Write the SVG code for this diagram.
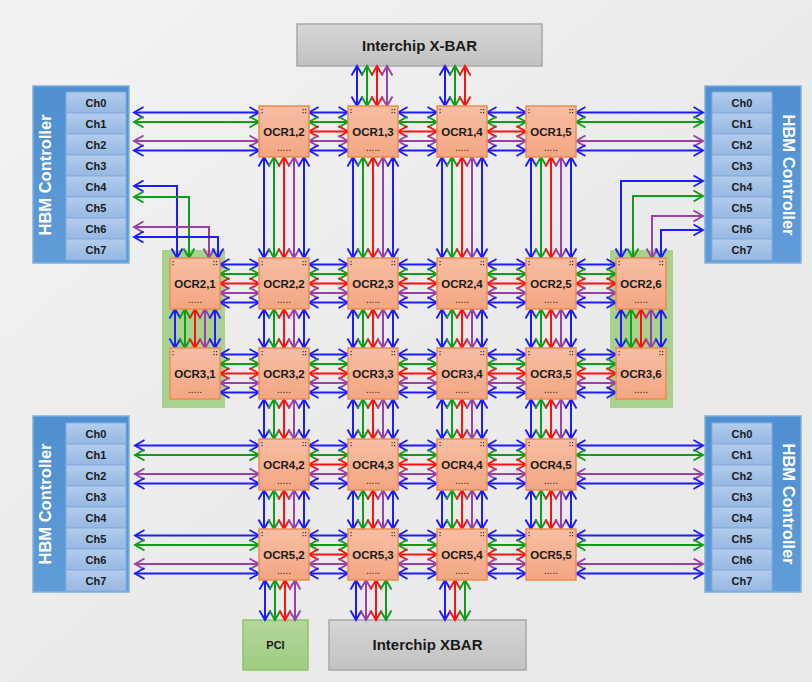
<svg xmlns="http://www.w3.org/2000/svg" xmlns:xlink="http://www.w3.org/1999/xlink" width="812" height="682" viewBox="0 0 812 682">
<defs>
<linearGradient id="gBg" x1="0" y1="0" x2="1" y2="1"><stop offset="0" stop-color="#f3f3f3"/><stop offset="0.5" stop-color="#ebebeb"/><stop offset="1" stop-color="#e9e9e9"/></linearGradient>
<linearGradient id="gN" x1="0" y1="0" x2="0" y2="1"><stop offset="0" stop-color="#f7bea3"/><stop offset="1" stop-color="#f3a682"/></linearGradient>
<linearGradient id="gH" x1="0" y1="0" x2="0" y2="1"><stop offset="0" stop-color="#4f8fd0"/><stop offset="1" stop-color="#5f9cd8"/></linearGradient>
<linearGradient id="gC" x1="0" y1="0" x2="0" y2="1"><stop offset="0" stop-color="#b2ccec"/><stop offset="1" stop-color="#96b8e2"/></linearGradient>
<linearGradient id="gX" x1="0" y1="0" x2="0" y2="1"><stop offset="0" stop-color="#d6d6d6"/><stop offset="1" stop-color="#c2c2c2"/></linearGradient>
<linearGradient id="gP" x1="0" y1="0" x2="0" y2="1"><stop offset="0" stop-color="#b4d89c"/><stop offset="1" stop-color="#9fcb82"/></linearGradient>
<marker id="mb" markerUnits="userSpaceOnUse" markerWidth="14" markerHeight="14" refX="10" refY="5.5" orient="auto-start-reverse" overflow="visible"><path d="M0.5,0 L10,5.5 L0.5,11" fill="none" stroke="#1c1cff" stroke-width="1.9"/></marker>
<marker id="mg" markerUnits="userSpaceOnUse" markerWidth="14" markerHeight="14" refX="10" refY="5.5" orient="auto-start-reverse" overflow="visible"><path d="M0.5,0 L10,5.5 L0.5,11" fill="none" stroke="#0f9e1a" stroke-width="1.9"/></marker>
<marker id="mr" markerUnits="userSpaceOnUse" markerWidth="14" markerHeight="14" refX="10" refY="5.5" orient="auto-start-reverse" overflow="visible"><path d="M0.5,0 L10,5.5 L0.5,11" fill="none" stroke="#ff1010" stroke-width="1.9"/></marker>
<marker id="mp" markerUnits="userSpaceOnUse" markerWidth="14" markerHeight="14" refX="10" refY="5.5" orient="auto-start-reverse" overflow="visible"><path d="M0.5,0 L10,5.5 L0.5,11" fill="none" stroke="#9b40a8" stroke-width="1.9"/></marker>
<g id="cd" fill="#333"><rect x="2.5" y="3" width="1.2" height="1.2"/><rect x="2.5" y="6" width="1.2" height="1.2"/><rect x="43.5" y="3" width="1.2" height="1.2"/><rect x="46" y="3" width="1.2" height="1.2"/><rect x="43.5" y="6" width="1.2" height="1.2"/><rect x="46" y="6" width="1.2" height="1.2"/></g>
</defs>
<style>
.n rect{fill:url(#gN);stroke:#ee8a4e;stroke-width:1.5}
.n text{font-family:"Liberation Sans",Arial,sans-serif;text-anchor:middle;fill:#1a1a1a}
.n .t{font-size:11.5px;font-weight:bold}
.n .d{font-size:10px}
.hb{fill:url(#gH);stroke:#7eb0e2;stroke-width:1.5}
.cell{fill:url(#gC);stroke:#86acdb;stroke-width:1}
.ch{font-family:"Liberation Sans",Arial,sans-serif;font-size:11px;font-weight:bold;fill:#1a1a1a;text-anchor:middle}
.hbt{font-family:"Liberation Sans",Arial,sans-serif;font-size:16.5px;font-weight:bold;fill:#ffffff;text-anchor:middle}
.bx{fill:url(#gX);stroke:#a8a8a8;stroke-width:1.5}
.pci{fill:url(#gP);stroke:#8cc56a;stroke-width:1.5}
.bt{font-family:"Liberation Sans",Arial,sans-serif;font-weight:bold;fill:#1a1a1a;text-anchor:middle}
.gz{fill:#a9d18e}
.c path{fill:none;stroke-width:2}
.c .b{stroke:#1c1cff;marker-start:url(#mb);marker-end:url(#mb)}
.c .g{stroke:#0f9e1a;marker-start:url(#mg);marker-end:url(#mg)}
.c .r{stroke:#ff1010;marker-start:url(#mr);marker-end:url(#mr)}
.c .p{stroke:#9b40a8;marker-start:url(#mp);marker-end:url(#mp)}
</style>
<rect x="0" y="0" width="812" height="682" fill="url(#gBg)"/>
<rect class="gz" x="162" y="250" width="63" height="158"/>
<rect class="gz" x="610" y="250" width="63" height="158"/>

<g id="xbar-top"><rect class="bx" x="297" y="24" width="245" height="42"/><text class="bt" x="419.5" y="51" font-size="15">Interchip X-BAR</text></g>
<g id="xbar-bottom"><rect class="bx" x="329" y="620" width="197" height="50"/><text class="bt" x="427.5" y="650" font-size="15">Interchip XBAR</text></g>
<g id="pci"><rect class="pci" x="243" y="620" width="65" height="50"/><text class="bt" x="275.5" y="649" font-size="11">PCI</text></g>

<g id="hbm-tl"><rect class="hb" x="33" y="86" width="96" height="177"/>
<rect class="cell" x="66" y="92" width="60" height="21"/><text class="ch" x="96" y="106.5">Ch0</text>
<rect class="cell" x="66" y="113" width="60" height="21"/><text class="ch" x="96" y="127.5">Ch1</text>
<rect class="cell" x="66" y="134" width="60" height="21"/><text class="ch" x="96" y="148.5">Ch2</text>
<rect class="cell" x="66" y="155" width="60" height="21"/><text class="ch" x="96" y="169.5">Ch3</text>
<rect class="cell" x="66" y="176" width="60" height="21"/><text class="ch" x="96" y="190.5">Ch4</text>
<rect class="cell" x="66" y="197" width="60" height="21"/><text class="ch" x="96" y="211.5">Ch5</text>
<rect class="cell" x="66" y="218" width="60" height="21"/><text class="ch" x="96" y="232.5">Ch6</text>
<rect class="cell" x="66" y="239" width="60" height="21"/><text class="ch" x="96" y="253.5">Ch7</text>
<text class="hbt" transform="translate(51,175) rotate(-90)">HBM Controller</text></g>

<g id="hbm-tr"><rect class="hb" x="705" y="86" width="96" height="177"/>
<rect class="cell" x="712" y="92" width="60" height="21"/><text class="ch" x="742" y="106.5">Ch0</text>
<rect class="cell" x="712" y="113" width="60" height="21"/><text class="ch" x="742" y="127.5">Ch1</text>
<rect class="cell" x="712" y="134" width="60" height="21"/><text class="ch" x="742" y="148.5">Ch2</text>
<rect class="cell" x="712" y="155" width="60" height="21"/><text class="ch" x="742" y="169.5">Ch3</text>
<rect class="cell" x="712" y="176" width="60" height="21"/><text class="ch" x="742" y="190.5">Ch4</text>
<rect class="cell" x="712" y="197" width="60" height="21"/><text class="ch" x="742" y="211.5">Ch5</text>
<rect class="cell" x="712" y="218" width="60" height="21"/><text class="ch" x="742" y="232.5">Ch6</text>
<rect class="cell" x="712" y="239" width="60" height="21"/><text class="ch" x="742" y="253.5">Ch7</text>
<text class="hbt" transform="translate(783,175) rotate(90)">HBM Controller</text></g>

<g id="hbm-bl"><rect class="hb" x="33" y="416" width="96" height="176"/>
<rect class="cell" x="66" y="423" width="60" height="21"/><text class="ch" x="96" y="437.5">Ch0</text>
<rect class="cell" x="66" y="444" width="60" height="21"/><text class="ch" x="96" y="458.5">Ch1</text>
<rect class="cell" x="66" y="465" width="60" height="21"/><text class="ch" x="96" y="479.5">Ch2</text>
<rect class="cell" x="66" y="486" width="60" height="21"/><text class="ch" x="96" y="500.5">Ch3</text>
<rect class="cell" x="66" y="507" width="60" height="21"/><text class="ch" x="96" y="521.5">Ch4</text>
<rect class="cell" x="66" y="528" width="60" height="21"/><text class="ch" x="96" y="542.5">Ch5</text>
<rect class="cell" x="66" y="549" width="60" height="21"/><text class="ch" x="96" y="563.5">Ch6</text>
<rect class="cell" x="66" y="570" width="60" height="21"/><text class="ch" x="96" y="584.5">Ch7</text>
<text class="hbt" transform="translate(51,504) rotate(-90)">HBM Controller</text></g>

<g id="hbm-br"><rect class="hb" x="705" y="416" width="96" height="176"/>
<rect class="cell" x="712" y="423" width="60" height="21"/><text class="ch" x="742" y="437.5">Ch0</text>
<rect class="cell" x="712" y="444" width="60" height="21"/><text class="ch" x="742" y="458.5">Ch1</text>
<rect class="cell" x="712" y="465" width="60" height="21"/><text class="ch" x="742" y="479.5">Ch2</text>
<rect class="cell" x="712" y="486" width="60" height="21"/><text class="ch" x="742" y="500.5">Ch3</text>
<rect class="cell" x="712" y="507" width="60" height="21"/><text class="ch" x="742" y="521.5">Ch4</text>
<rect class="cell" x="712" y="528" width="60" height="21"/><text class="ch" x="742" y="542.5">Ch5</text>
<rect class="cell" x="712" y="549" width="60" height="21"/><text class="ch" x="742" y="563.5">Ch6</text>
<rect class="cell" x="712" y="570" width="60" height="21"/><text class="ch" x="742" y="584.5">Ch7</text>
<text class="hbt" transform="translate(783,504) rotate(90)">HBM Controller</text></g>

<g id="connectors" class="c">
<!-- HBM top-left -->
<path class="b" d="M134,112.5H259"/><path class="g" d="M134,122H259"/><path class="p" d="M134,141H259"/><path class="b" d="M134,150.5H259"/>
<path class="b" d="M134,186H177V258"/><path class="g" d="M134,197H189V258"/><path class="p" d="M134,227H209V258"/><path class="b" d="M134,237H218V258"/>
<!-- HBM top-right -->
<path class="b" d="M576,112.5H703"/><path class="g" d="M576,122H703"/><path class="p" d="M576,141H703"/><path class="b" d="M576,150.5H703"/>
<path class="b" d="M703,181H621V258"/><path class="g" d="M703,196H633V258"/><path class="p" d="M703,216H652V258"/><path class="b" d="M703,230H661V258"/>
<!-- HBM bottom-left -->
<path class="b" d="M135,445.5H259"/><path class="g" d="M135,455H259"/><path class="p" d="M135,474H259"/><path class="b" d="M135,483.5H259"/>
<path class="b" d="M135,535.5H259"/><path class="g" d="M135,545H259"/><path class="p" d="M135,564H259"/><path class="b" d="M135,573.5H259"/>
<!-- HBM bottom-right -->
<path class="b" d="M576,445.5H703"/><path class="g" d="M576,455H703"/><path class="p" d="M576,474H703"/><path class="b" d="M576,483.5H703"/>
<path class="b" d="M576,535.5H703"/><path class="g" d="M576,545H703"/><path class="p" d="M576,564H703"/><path class="b" d="M576,573.5H703"/>
<!-- top X-BAR -->
<path class="b" d="M357,66V106"/><path class="g" d="M367,66V106"/><path class="r" d="M377,66V106"/><path class="p" d="M387,66V106"/>
<path class="b" d="M445,66V106"/><path class="g" d="M455,66V106"/><path class="r" d="M465,66V106"/>
<!-- bottom -->
<path class="b" d="M265,580V620"/><path class="g" d="M275,580V620"/><path class="r" d="M285,580V620"/><path class="p" d="M295,580V620"/>
<path class="b" d="M356,580V620"/><path class="p" d="M366,580V620"/><path class="r" d="M376,580V620"/><path class="g" d="M386,580V620"/>
<path class="b" d="M445,580V620"/><path class="r" d="M455,580V620"/><path class="g" d="M465,580V620"/>
<!-- row1 horizontal -->
<path class="b" d="M309,112.5H348"/><path class="g" d="M309,122H348"/><path class="r" d="M309,131.5H348"/><path class="p" d="M309,141H348"/><path class="b" d="M309,150.5H348"/>
<path class="b" d="M398,112.5H437"/><path class="g" d="M398,122H437"/><path class="r" d="M398,131.5H437"/><path class="p" d="M398,141H437"/><path class="b" d="M398,150.5H437"/>
<path class="b" d="M487,112.5H526"/><path class="g" d="M487,122H526"/><path class="r" d="M487,131.5H526"/><path class="p" d="M487,141H526"/><path class="b" d="M487,150.5H526"/>
<!-- row2 horizontal -->
<path class="b" d="M220,264.5H259"/><path class="g" d="M220,274H259"/><path class="r" d="M220,283.5H259"/><path class="p" d="M220,293H259"/><path class="b" d="M220,302.5H259"/>
<path class="b" d="M309,264.5H348"/><path class="g" d="M309,274H348"/><path class="r" d="M309,283.5H348"/><path class="p" d="M309,293H348"/><path class="b" d="M309,302.5H348"/>
<path class="b" d="M398,264.5H437"/><path class="g" d="M398,274H437"/><path class="r" d="M398,283.5H437"/><path class="p" d="M398,293H437"/><path class="b" d="M398,302.5H437"/>
<path class="b" d="M487,264.5H526"/><path class="g" d="M487,274H526"/><path class="r" d="M487,283.5H526"/><path class="p" d="M487,293H526"/><path class="b" d="M487,302.5H526"/>
<path class="b" d="M576,264.5H616"/><path class="g" d="M576,274H616"/><path class="r" d="M576,283.5H616"/><path class="p" d="M576,293H616"/><path class="b" d="M576,302.5H616"/>
<!-- row3 horizontal -->
<path class="b" d="M220,354.5H259"/><path class="g" d="M220,364H259"/><path class="r" d="M220,373.5H259"/><path class="p" d="M220,383H259"/><path class="b" d="M220,392.5H259"/>
<path class="b" d="M309,354.5H348"/><path class="g" d="M309,364H348"/><path class="r" d="M309,373.5H348"/><path class="p" d="M309,383H348"/><path class="b" d="M309,392.5H348"/>
<path class="b" d="M398,354.5H437"/><path class="g" d="M398,364H437"/><path class="r" d="M398,373.5H437"/><path class="p" d="M398,383H437"/><path class="b" d="M398,392.5H437"/>
<path class="b" d="M487,354.5H526"/><path class="g" d="M487,364H526"/><path class="r" d="M487,373.5H526"/><path class="p" d="M487,383H526"/><path class="b" d="M487,392.5H526"/>
<path class="b" d="M576,354.5H616"/><path class="g" d="M576,364H616"/><path class="r" d="M576,373.5H616"/><path class="p" d="M576,383H616"/><path class="b" d="M576,392.5H616"/>
<!-- row4 horizontal -->
<path class="b" d="M309,445.5H348"/><path class="g" d="M309,455H348"/><path class="r" d="M309,464.5H348"/><path class="p" d="M309,474H348"/><path class="b" d="M309,483.5H348"/>
<path class="b" d="M398,445.5H437"/><path class="g" d="M398,455H437"/><path class="r" d="M398,464.5H437"/><path class="p" d="M398,474H437"/><path class="b" d="M398,483.5H437"/>
<path class="b" d="M487,445.5H526"/><path class="g" d="M487,455H526"/><path class="r" d="M487,464.5H526"/><path class="p" d="M487,474H526"/><path class="b" d="M487,483.5H526"/>
<!-- row5 horizontal -->
<path class="b" d="M309,535.5H348"/><path class="g" d="M309,545H348"/><path class="r" d="M309,554.5H348"/><path class="p" d="M309,564H348"/><path class="b" d="M309,573.5H348"/>
<path class="b" d="M398,535.5H437"/><path class="g" d="M398,545H437"/><path class="r" d="M398,554.5H437"/><path class="p" d="M398,564H437"/><path class="b" d="M398,573.5H437"/>
<path class="b" d="M487,535.5H526"/><path class="g" d="M487,545H526"/><path class="r" d="M487,554.5H526"/><path class="p" d="M487,564H526"/><path class="b" d="M487,573.5H526"/>
<!-- row1 to row2 vertical -->
<path class="b" d="M264,157V258"/><path class="g" d="M274,157V258"/><path class="r" d="M284,157V258"/><path class="p" d="M294,157V258"/><path class="b" d="M304,157V258"/>
<path class="b" d="M353,157V258"/><path class="g" d="M363,157V258"/><path class="r" d="M373,157V258"/><path class="p" d="M383,157V258"/><path class="b" d="M393,157V258"/>
<path class="b" d="M442,157V258"/><path class="g" d="M452,157V258"/><path class="r" d="M462,157V258"/><path class="p" d="M472,157V258"/><path class="b" d="M482,157V258"/>
<path class="b" d="M531,157V258"/><path class="g" d="M541,157V258"/><path class="r" d="M551,157V258"/><path class="p" d="M561,157V258"/><path class="b" d="M571,157V258"/>
<!-- row2 to row3 vertical -->
<path class="b" d="M175,309V348"/><path class="g" d="M185,309V348"/><path class="r" d="M195,309V348"/><path class="p" d="M205,309V348"/><path class="b" d="M215,309V348"/>
<path class="b" d="M264,309V348"/><path class="g" d="M274,309V348"/><path class="r" d="M284,309V348"/><path class="p" d="M294,309V348"/><path class="b" d="M304,309V348"/>
<path class="b" d="M353,309V348"/><path class="g" d="M363,309V348"/><path class="r" d="M373,309V348"/><path class="p" d="M383,309V348"/><path class="b" d="M393,309V348"/>
<path class="b" d="M442,309V348"/><path class="g" d="M452,309V348"/><path class="r" d="M462,309V348"/><path class="p" d="M472,309V348"/><path class="b" d="M482,309V348"/>
<path class="b" d="M531,309V348"/><path class="g" d="M541,309V348"/><path class="r" d="M551,309V348"/><path class="p" d="M561,309V348"/><path class="b" d="M571,309V348"/>
<path class="b" d="M621,309V348"/><path class="g" d="M631,309V348"/><path class="r" d="M641,309V348"/><path class="p" d="M651,309V348"/><path class="b" d="M661,309V348"/>
<!-- row3 to row4 vertical -->
<path class="b" d="M264,399V439"/><path class="g" d="M274,399V439"/><path class="r" d="M284,399V439"/><path class="p" d="M294,399V439"/><path class="b" d="M304,399V439"/>
<path class="b" d="M353,399V439"/><path class="g" d="M363,399V439"/><path class="r" d="M373,399V439"/><path class="p" d="M383,399V439"/><path class="b" d="M393,399V439"/>
<path class="b" d="M442,399V439"/><path class="g" d="M452,399V439"/><path class="r" d="M462,399V439"/><path class="p" d="M472,399V439"/><path class="b" d="M482,399V439"/>
<path class="b" d="M531,399V439"/><path class="g" d="M541,399V439"/><path class="r" d="M551,399V439"/><path class="p" d="M561,399V439"/><path class="b" d="M571,399V439"/>
<!-- row4 to row5 vertical -->
<path class="b" d="M264,490V529"/><path class="g" d="M274,490V529"/><path class="r" d="M284,490V529"/><path class="p" d="M294,490V529"/><path class="b" d="M304,490V529"/>
<path class="b" d="M353,490V529"/><path class="g" d="M363,490V529"/><path class="r" d="M373,490V529"/><path class="p" d="M383,490V529"/><path class="b" d="M393,490V529"/>
<path class="b" d="M442,490V529"/><path class="g" d="M452,490V529"/><path class="r" d="M462,490V529"/><path class="p" d="M472,490V529"/><path class="b" d="M482,490V529"/>
<path class="b" d="M531,490V529"/><path class="g" d="M541,490V529"/><path class="r" d="M551,490V529"/><path class="p" d="M561,490V529"/><path class="b" d="M571,490V529"/>
</g>

<g id="ocr1-2" class="n"><rect x="259" y="106" width="50" height="51"/><use href="#cd" x="259" y="106"/><text class="t" x="284" y="136">OCR1,2</text><text class="d" x="284" y="151">.....</text></g>
<g id="ocr1-3" class="n"><rect x="348" y="106" width="50" height="51"/><use href="#cd" x="348" y="106"/><text class="t" x="373" y="136">OCR1,3</text><text class="d" x="373" y="151">.....</text></g>
<g id="ocr1-4" class="n"><rect x="437" y="106" width="50" height="51"/><use href="#cd" x="437" y="106"/><text class="t" x="462" y="136">OCR1,4</text><text class="d" x="462" y="151">.....</text></g>
<g id="ocr1-5" class="n"><rect x="526" y="106" width="50" height="51"/><use href="#cd" x="526" y="106"/><text class="t" x="551" y="136">OCR1,5</text><text class="d" x="551" y="151">.....</text></g>

<g id="ocr2-1" class="n"><rect x="170" y="258" width="50" height="51"/><use href="#cd" x="170" y="258"/><text class="t" x="195" y="288">OCR2,1</text><text class="d" x="195" y="303">.....</text></g>
<g id="ocr2-2" class="n"><rect x="259" y="258" width="50" height="51"/><use href="#cd" x="259" y="258"/><text class="t" x="284" y="288">OCR2,2</text><text class="d" x="284" y="303">.....</text></g>
<g id="ocr2-3" class="n"><rect x="348" y="258" width="50" height="51"/><use href="#cd" x="348" y="258"/><text class="t" x="373" y="288">OCR2,3</text><text class="d" x="373" y="303">.....</text></g>
<g id="ocr2-4" class="n"><rect x="437" y="258" width="50" height="51"/><use href="#cd" x="437" y="258"/><text class="t" x="462" y="288">OCR2,4</text><text class="d" x="462" y="303">.....</text></g>
<g id="ocr2-5" class="n"><rect x="526" y="258" width="50" height="51"/><use href="#cd" x="526" y="258"/><text class="t" x="551" y="288">OCR2,5</text><text class="d" x="551" y="303">.....</text></g>
<g id="ocr2-6" class="n"><rect x="616" y="258" width="50" height="51"/><use href="#cd" x="616" y="258"/><text class="t" x="641" y="288">OCR2,6</text><text class="d" x="641" y="303">.....</text></g>

<g id="ocr3-1" class="n"><rect x="170" y="348" width="50" height="51"/><use href="#cd" x="170" y="348"/><text class="t" x="195" y="378">OCR3,1</text><text class="d" x="195" y="393">.....</text></g>
<g id="ocr3-2" class="n"><rect x="259" y="348" width="50" height="51"/><use href="#cd" x="259" y="348"/><text class="t" x="284" y="378">OCR3,2</text><text class="d" x="284" y="393">.....</text></g>
<g id="ocr3-3" class="n"><rect x="348" y="348" width="50" height="51"/><use href="#cd" x="348" y="348"/><text class="t" x="373" y="378">OCR3,3</text><text class="d" x="373" y="393">.....</text></g>
<g id="ocr3-4" class="n"><rect x="437" y="348" width="50" height="51"/><use href="#cd" x="437" y="348"/><text class="t" x="462" y="378">OCR3,4</text><text class="d" x="462" y="393">.....</text></g>
<g id="ocr3-5" class="n"><rect x="526" y="348" width="50" height="51"/><use href="#cd" x="526" y="348"/><text class="t" x="551" y="378">OCR3,5</text><text class="d" x="551" y="393">.....</text></g>
<g id="ocr3-6" class="n"><rect x="616" y="348" width="50" height="51"/><use href="#cd" x="616" y="348"/><text class="t" x="641" y="378">OCR3,6</text><text class="d" x="641" y="393">.....</text></g>

<g id="ocr4-2" class="n"><rect x="259" y="439" width="50" height="51"/><use href="#cd" x="259" y="439"/><text class="t" x="284" y="469">OCR4,2</text><text class="d" x="284" y="484">.....</text></g>
<g id="ocr4-3" class="n"><rect x="348" y="439" width="50" height="51"/><use href="#cd" x="348" y="439"/><text class="t" x="373" y="469">OCR4,3</text><text class="d" x="373" y="484">.....</text></g>
<g id="ocr4-4" class="n"><rect x="437" y="439" width="50" height="51"/><use href="#cd" x="437" y="439"/><text class="t" x="462" y="469">OCR4,4</text><text class="d" x="462" y="484">.....</text></g>
<g id="ocr4-5" class="n"><rect x="526" y="439" width="50" height="51"/><use href="#cd" x="526" y="439"/><text class="t" x="551" y="469">OCR4,5</text><text class="d" x="551" y="484">.....</text></g>

<g id="ocr5-2" class="n"><rect x="259" y="529" width="50" height="51"/><use href="#cd" x="259" y="529"/><text class="t" x="284" y="559">OCR5,2</text><text class="d" x="284" y="574">.....</text></g>
<g id="ocr5-3" class="n"><rect x="348" y="529" width="50" height="51"/><use href="#cd" x="348" y="529"/><text class="t" x="373" y="559">OCR5,3</text><text class="d" x="373" y="574">.....</text></g>
<g id="ocr5-4" class="n"><rect x="437" y="529" width="50" height="51"/><use href="#cd" x="437" y="529"/><text class="t" x="462" y="559">OCR5,4</text><text class="d" x="462" y="574">.....</text></g>
<g id="ocr5-5" class="n"><rect x="526" y="529" width="50" height="51"/><use href="#cd" x="526" y="529"/><text class="t" x="551" y="559">OCR5,5</text><text class="d" x="551" y="574">.....</text></g>
</svg>
